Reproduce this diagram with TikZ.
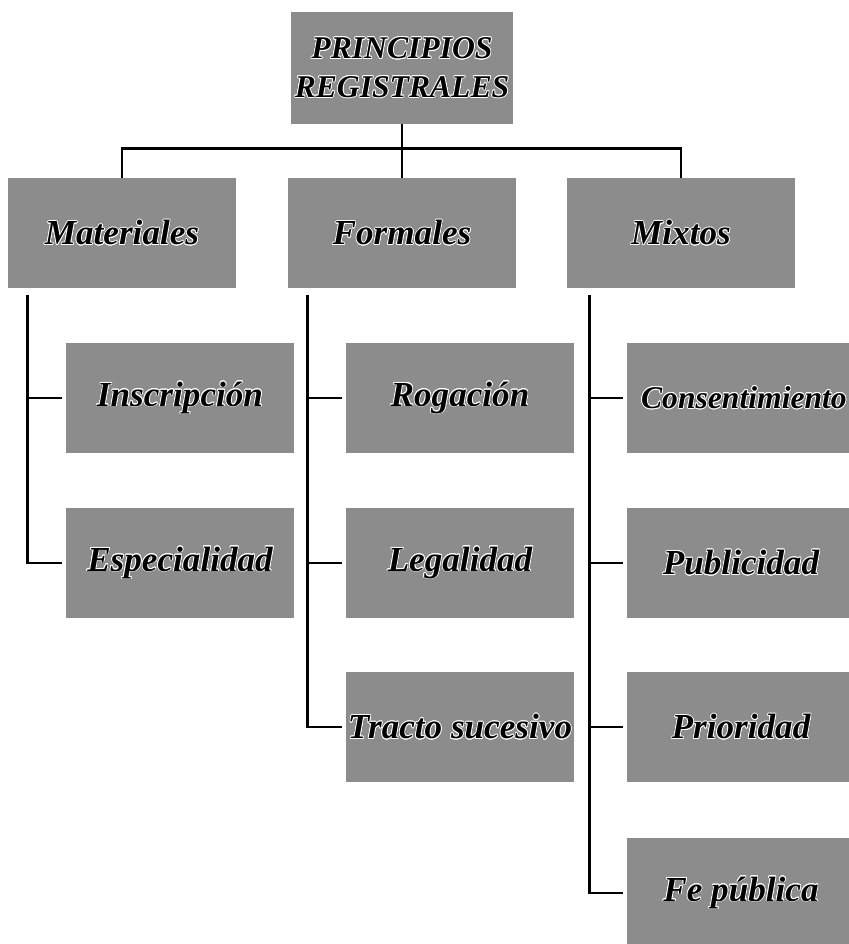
\documentclass[tikz,border=0pt]{standalone}
\usepackage{fontspec}
\setmainfont{Liberation Serif}
\usepackage{contour}
\contourlength{0.6pt}
\usetikzlibrary{positioning}

\tikzset{
  caja/.style={fill=black!45, minimum width=6.84cm, minimum height=3.3cm,
    inner sep=0pt, align=center,
    font=\fontsize{30}{34}\selectfont\bfseries\itshape},
  linea/.style={black, line width=2.4pt}
}
\newcommand{\rotulo}[1]{\contour{white}{#1}}

\begin{document}
\begin{tikzpicture}[x=0.03cm, y=-0.03cm]
    \useasboundingbox (0,0) rectangle (849,944);

    % Cabecera
    \node[caja, minimum width=6.66cm, minimum height=3.36cm,
          font=\fontsize{27}{33}\selectfont\bfseries\itshape] (raiz) at (402,68)
        {\rotulo{PRINCIPIOS}\\\rotulo{REGISTRALES}};

    % Grupos
    \node[caja] (mat) at (122,233) {\rotulo{Materiales}};
    \node[caja] (for) at (402,233) {\rotulo{Formales}};
    \node[caja] (mix) at (681,233) {\rotulo{Mixtos}};

    % Materiales
    \node[caja] (ins) at (180,398) {\rotulo{Inscripción}};
    \node[caja] (esp) at (180,563) {\rotulo{Especialidad}};

    % Formales
    \node[caja] (rog) at (460,398) {\rotulo{Rogación}};
    \node[caja] (leg) at (460,563) {\rotulo{Legalidad}};
    \node[caja] (tra) at (460,727) {\rotulo{Tracto sucesivo}};

    % Mixtos
    \node[caja] (con) at (741,398) {};
    \node[font=\fontsize{27}{30}\selectfont\bfseries\itshape, inner sep=0pt,
          anchor=east] (contxt) at ([xshift=-0.06cm]849,398) {\rotulo{Consentimiento}};
    \node[caja] (pub) at (741,563) {\rotulo{Publicidad}};
    \node[caja] (pri) at (741,727) {\rotulo{Prioridad}};
    \node[caja] (fe)  at (741,893) {\rotulo{Fe pública}};

    % Llaves superiores
    \draw[linea] (raiz.south) -- ++(0,24) coordinate (cruce);
    \draw[linea] (mat.north) -- (mat.north |- cruce) -- (mix.north |- cruce) -- (mix.north);
    \draw[linea] (cruce) -- (for.north);

    % Líneas verticales
    \coordinate (tm) at ([xshift=0.6cm, yshift=-0.21cm]mat.south west);
    \coordinate (tf) at ([xshift=0.6cm, yshift=-0.21cm]for.south west);
    \coordinate (tx) at ([xshift=0.69cm, yshift=-0.21cm]mix.south west);
    \draw[linea] (tm) |- ([xshift=-0.12cm]esp.west);
    \draw[linea] (tf) |- ([xshift=-0.12cm]tra.west);
    \draw[linea] (tx) |- ([xshift=-0.12cm]fe.west);

    % Ramas
    \draw[linea] (tm |- ins.west) -- ([xshift=-0.12cm]ins.west);
    \draw[linea] (tf |- rog.west) -- ([xshift=-0.12cm]rog.west);
    \draw[linea] (tf |- leg.west) -- ([xshift=-0.12cm]leg.west);
    \draw[linea] (tx |- con.west) -- ([xshift=-0.12cm]con.west);
    \draw[linea] (tx |- pub.west) -- ([xshift=-0.12cm]pub.west);
    \draw[linea] (tx |- pri.west) -- ([xshift=-0.12cm]pri.west);
\end{tikzpicture}
\end{document}
